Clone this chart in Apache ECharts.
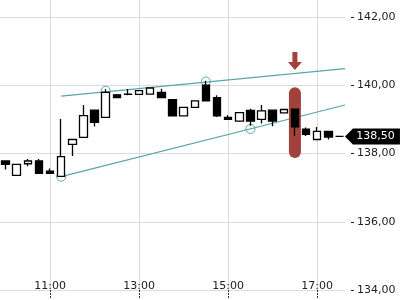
<!DOCTYPE html>
<html>
<head>
<meta charset="utf-8">
<script src="https://cdn.jsdelivr.net/npm/echarts@6/dist/echarts.min.js"></script>
<style>html,body{margin:0;padding:0;background:#fff}#c{width:400px;height:300px}</style>
</head>
<body>
<div id="c"></div>
<script>
// 15-minute bars
const times = ['10:00','10:15','10:30','10:45','11:00','11:15','11:30','11:45','12:00','12:15','12:30','12:45',
  '13:00','13:15','13:30','13:45','14:00','14:15','14:30','14:45','15:00','15:15','15:30','15:45',
  '16:00','16:15','16:30','16:45','17:00','17:15','17:30'];
const opens  = [137.78,137.36,137.70,137.78,137.48,137.33,138.27,138.47,139.27,139.06,139.72,139.73,
  139.73,139.74,139.79,139.58,139.10,139.35,140.00,139.64,139.06,138.95,139.26,139.00,
  139.27,139.19,139.30,138.71,138.41,138.65,138.50];
const closes = [137.68,137.68,137.78,137.42,137.42,137.91,138.41,139.11,138.91,139.79,139.64,139.74,
  139.84,139.92,139.64,139.10,139.35,139.54,139.54,139.10,139.00,139.20,138.95,139.25,
  138.95,139.29,138.78,138.56,138.65,138.48,138.50];
const lows   = [137.53,137.36,137.63,137.42,137.42,137.33,137.93,138.47,138.79,139.06,139.62,139.71,
  139.73,139.74,139.64,139.10,139.10,139.35,139.54,139.07,139.00,138.95,138.81,138.88,
  138.80,139.19,138.52,138.51,138.41,138.41,138.50];
const highs  = [137.78,137.68,137.84,137.84,137.56,139.01,138.41,139.42,139.27,139.88,139.74,139.89,
  139.84,139.92,139.90,139.58,139.35,139.54,140.13,139.71,139.12,139.20,139.31,139.42,
  139.27,139.29,139.30,138.76,138.78,138.65,138.50];
const yMin = 134, yMax = 142, yStep = 2;
const lastPrice = 138.50;
// trend lines: [bar index, price]
const upperTrend = [[5, 139.68], [30.5, 140.49]];
const lowerTrend = [[5, 137.32], [30.5, 139.42]];
const touchPoints = [[5, 137.32], [9, 139.84], [18, 140.11], [22, 138.72]];
const highlightTime = '16:30';
const highlightRange = [137.87, 139.94];
const arrowPrice = 140.71;

const fmt = v => v.toFixed(2).replace('.', ',');
const isLabelTime = (i, v) => v.endsWith(':00') && parseInt(v, 10) % 2 === 1;
const teal = '#5ba5a9';
const red = '#a2423c';

// layout: price-scale grid (top 17) and a data grid reaching the top edge with the same scale
const H = 300, gridTop = 17, gridBottom = 10;
const pxPerUnit = (H - gridTop - gridBottom) / (yMax - yMin);
const dataMax = yMax + gridTop / pxPerUnit;

const candles = times.map((t, i) => [opens[i], closes[i], lows[i], highs[i]]);
const hlBase = times.map(t => t === highlightTime ? highlightRange[0] : '-');
const hlSize = times.map(t => t === highlightTime ? +(highlightRange[1] - highlightRange[0]).toFixed(2) : '-');

const chart = echarts.init(document.getElementById('c'), null, {renderer: 'canvas'});
chart.setOption({
  animation: false,
  textStyle: {fontFamily: 'DejaVu Sans'},
  grid: [
    {left: 0, right: 55, top: 0, bottom: gridBottom, containLabel: false, outerBoundsMode: 'none'},
    {left: 0, right: 55, top: gridTop, bottom: gridBottom, containLabel: false, outerBoundsMode: 'none'}
  ],
  xAxis: [{
    type: 'category', data: times, boundaryGap: true, gridIndex: 0,
    axisLine: {show: false, onZero: false},
    axisTick: {show: true, alignWithLabel: true, interval: isLabelTime, length: 8,
      lineStyle: {color: '#333', width: 1, type: [2, 1]}},
    axisLabel: {inside: true, interval: isLabelTime, margin: -2, fontSize: 11, color: '#222'},
    splitLine: {show: true, alignWithLabel: true, interval: isLabelTime, lineStyle: {color: '#dcdcdc', width: 1}}
  }, {
    type: 'value', min: -0.5, max: 30.5, show: false, gridIndex: 0
  }, {
    type: 'value', min: 0, max: 1, show: false, gridIndex: 1
  }],
  yAxis: [{
    type: 'value', min: yMin, max: dataMax, gridIndex: 0, show: false
  }, {
    type: 'value', position: 'right', min: yMin, max: yMax, interval: yStep, offset: 6, gridIndex: 1,
    axisLine: {show: false, onZero: false},
    axisTick: {show: true, length: 3, lineStyle: {color: '#222', width: 1}},
    axisLabel: {margin: 6, fontSize: 11, color: '#222', formatter: fmt},
    splitLine: {show: true, lineStyle: {color: '#dcdcdc', width: 1}}
  }],
  series: [
    {type: 'line', xAxisIndex: 1, yAxisIndex: 0, data: upperTrend, showSymbol: false, silent: true, z: 1,
      lineStyle: {color: teal, width: 1.2}},
    {type: 'line', xAxisIndex: 1, yAxisIndex: 0, data: lowerTrend, showSymbol: false, silent: true, z: 1,
      lineStyle: {color: teal, width: 1.2}},
    {type: 'scatter', xAxisIndex: 1, yAxisIndex: 0, data: touchPoints, symbol: 'circle', symbolSize: 9, z: 1,
      itemStyle: {color: 'rgba(0,0,0,0)', borderColor: teal, borderWidth: 1, opacity: 1}},
    {type: 'bar', stack: 'hl', data: hlBase, barWidth: 12, z: 2, itemStyle: {color: 'rgba(0,0,0,0)'}},
    {type: 'bar', stack: 'hl', data: hlSize, barWidth: 12, z: 2, itemStyle: {color: red, borderRadius: 6}},
    {type: 'scatter', data: times.map(t => t === highlightTime ? arrowPrice : '-'), z: 3,
      symbol: 'path://M4.5,0 L9.5,0 L9.5,10 L14,10 L7,18 L0,10 L4.5,10 Z', symbolSize: [14, 18],
      symbolKeepAspect: false, itemStyle: {color: red, opacity: 1}},
    {type: 'candlestick', data: candles, barWidth: 8, z: 4,
      itemStyle: {color: '#ffffff', color0: '#000000', borderColor: '#000000', borderColor0: '#000000',
        borderColorDoji: '#000000', borderWidth: 1.3},
      markPoint: {
        symbol: 'path://M0,8 L8,0 L55,0 L55,16 L8,16 Z', symbolSize: [55, 16], symbolKeepAspect: false,
        symbolOffset: [33, 0], silent: true,
        itemStyle: {color: '#000'},
        label: {show: true, position: 'inside', offset: [3, 0], color: '#fff', fontSize: 11,
          formatter: () => fmt(lastPrice)},
        data: [{coord: [times[times.length - 1], lastPrice]}]
      }
    }
  ]
});
</script>
</body>
</html>
